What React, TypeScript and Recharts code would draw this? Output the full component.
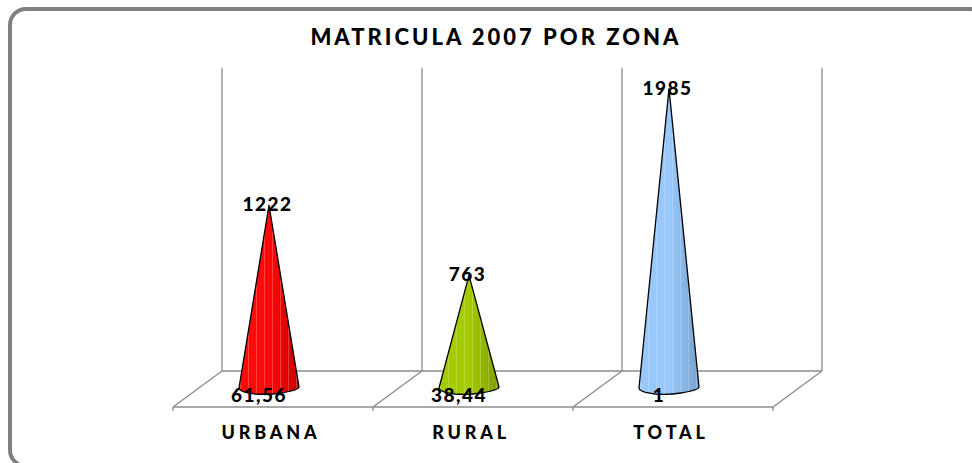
import { Bar, BarChart, LabelList, XAxis, YAxis, usePlotArea } from 'recharts';

const zones = ['URBANA', 'RURAL', 'TOTAL'];
const matricula = [1222, 763, 1985];
const baseLabels = ['61,56', '38,44', '1'];
const topLabels = ['1222', '763', '1985'];
const lightColors = ['#ff0a0a', '#a4cc00', '#99c9fb'];
const darkColors = ['#c80000', '#7f9e00', '#77a2cf'];

const data = zones.map((zona, i) => ({
  zona,
  matricula: matricula[i],
  baseLabel: baseLabels[i],
  topLabel: topLabels[i],
}));

const FONT = 'Lato, sans-serif';
const DEPTH_X = 49;
const DEPTH_Y = 36;

// the fake 3D floor and back walls, built from the plot area
const Floor = () => {
  const plot = usePlotArea();
  if (!plot) return null;
  const band = plot.width / zones.length;
  const left = plot.x + 4;
  const front = plot.y + plot.height + 15;
  const back = front - DEPTH_Y;
  const stops = zones.map((_, i) => left + band * i).concat(left + band * zones.length);
  return (
    <g stroke="#8c8c8c" strokeWidth={1.3} fill="none">
      {stops.map((x) => (
        <g key={x}>
          <line x1={x + DEPTH_X} y1={plot.y} x2={x + DEPTH_X} y2={back} />
          <line x1={x} y1={front} x2={x + DEPTH_X} y2={back} />
          <line x1={x} y1={front} x2={x} y2={front + 4} />
        </g>
      ))}
      <line x1={left + DEPTH_X} y1={back} x2={left + band * 3 + DEPTH_X} y2={back} />
      <line x1={left} y1={front} x2={left + band * 3} y2={front} />
    </g>
  );
};

const Cone = (props: any) => {
  const { x, y, width, height, index } = props;
  const cx = x + width / 2;
  const half = width / 2;
  const baseY = y + height;
  const d = `M ${cx} ${y} L ${cx + half} ${baseY - 5} Q ${cx + half} ${baseY - 2} ${cx + 12} ${baseY + 1}
    Q ${cx} ${baseY + 3} ${cx - 14} ${baseY + 2} Q ${cx - half} ${baseY} ${cx - half} ${baseY - 4} Z`;
  return (
    <g>
      <path d={d} fill={`url(#cone${index})`} stroke="none" />
      <path d={d} fill="url(#stripes)" stroke="#000" strokeWidth={1.3} strokeLinejoin="round" />
    </g>
  );
};

const TopLabel = (props: any) => {
  const { x, y, width, value } = props;
  return (
    <text x={x + width / 2 - 1.5} y={y + 6} textAnchor="middle" fontFamily={FONT} fontWeight={900} fontSize={19} letterSpacing={1.5} fill="#000">
      {value}
    </text>
  );
};

const BaseLabel = (props: any) => {
  const { x, y, width, height, value } = props;
  return (
    <text x={x + width / 2 - 10} y={y + height + 10} textAnchor="middle" fontFamily={FONT} fontWeight={900} fontSize={19} letterSpacing={1.5} fill="#000">
      {value}
    </text>
  );
};

const App = () => {
  return (
    <div style={{ position: 'fixed', left: 0, top: 0, width: 972, height: 463, overflow: 'hidden', background: '#fff' }}>
      <div
        style={{
          position: 'absolute',
          left: 8,
          top: 7,
          width: 980,
          height: 461,
          boxSizing: 'border-box',
          border: '4px solid #808080',
          borderRadius: 18,
        }}
      />
      <div
        style={{
          position: 'absolute',
          left: 0,
          width: 992,
          top: 23,
          textAlign: 'center',
          fontFamily: FONT,
          fontWeight: 900,
          fontSize: 22,
          letterSpacing: 3,
          color: '#000',
        }}
      >
        MATRICULA 2007 POR ZONA
      </div>
      <div style={{ position: 'absolute', left: 0, top: 0 }}>
        <BarChart
          width={972}
          height={463}
          data={data}
          margin={{ top: 68, right: 203, bottom: 0, left: 169 }}
          style={{ overflow: 'visible' }}
        >
          <defs>
            {lightColors.map((c, i) => (
              <linearGradient key={c} id={`cone${i}`} x1="0" y1="0" x2="1" y2="0">
                <stop offset="0%" stopColor={c} />
                <stop offset="50%" stopColor={c} />
                <stop offset="100%" stopColor={darkColors[i]} />
              </linearGradient>
            ))}
            <pattern id="stripes" width={8} height={8} patternUnits="userSpaceOnUse">
              <rect x={0} y={0} width={1} height={8} fill="#fff" fillOpacity={0.22} />
            </pattern>
          </defs>
          <XAxis
            dataKey="zona"
            axisLine={false}
            tickLine={false}
            interval={0}
            height={71}
            tickMargin={28}
            tick={{ fontFamily: FONT, fontWeight: 900, fontSize: 18, letterSpacing: 3.8, fill: '#000', dx: 2 }}
          />
          <YAxis hide domain={[0, 2120]} />
          <Floor />
          <Bar dataKey="matricula" barSize={60} isAnimationActive={false} shape={Cone}>
            <LabelList dataKey="topLabel" content={TopLabel} />
            <LabelList dataKey="baseLabel" content={BaseLabel} />
          </Bar>
        </BarChart>
      </div>
    </div>
  );
};

export default App;
